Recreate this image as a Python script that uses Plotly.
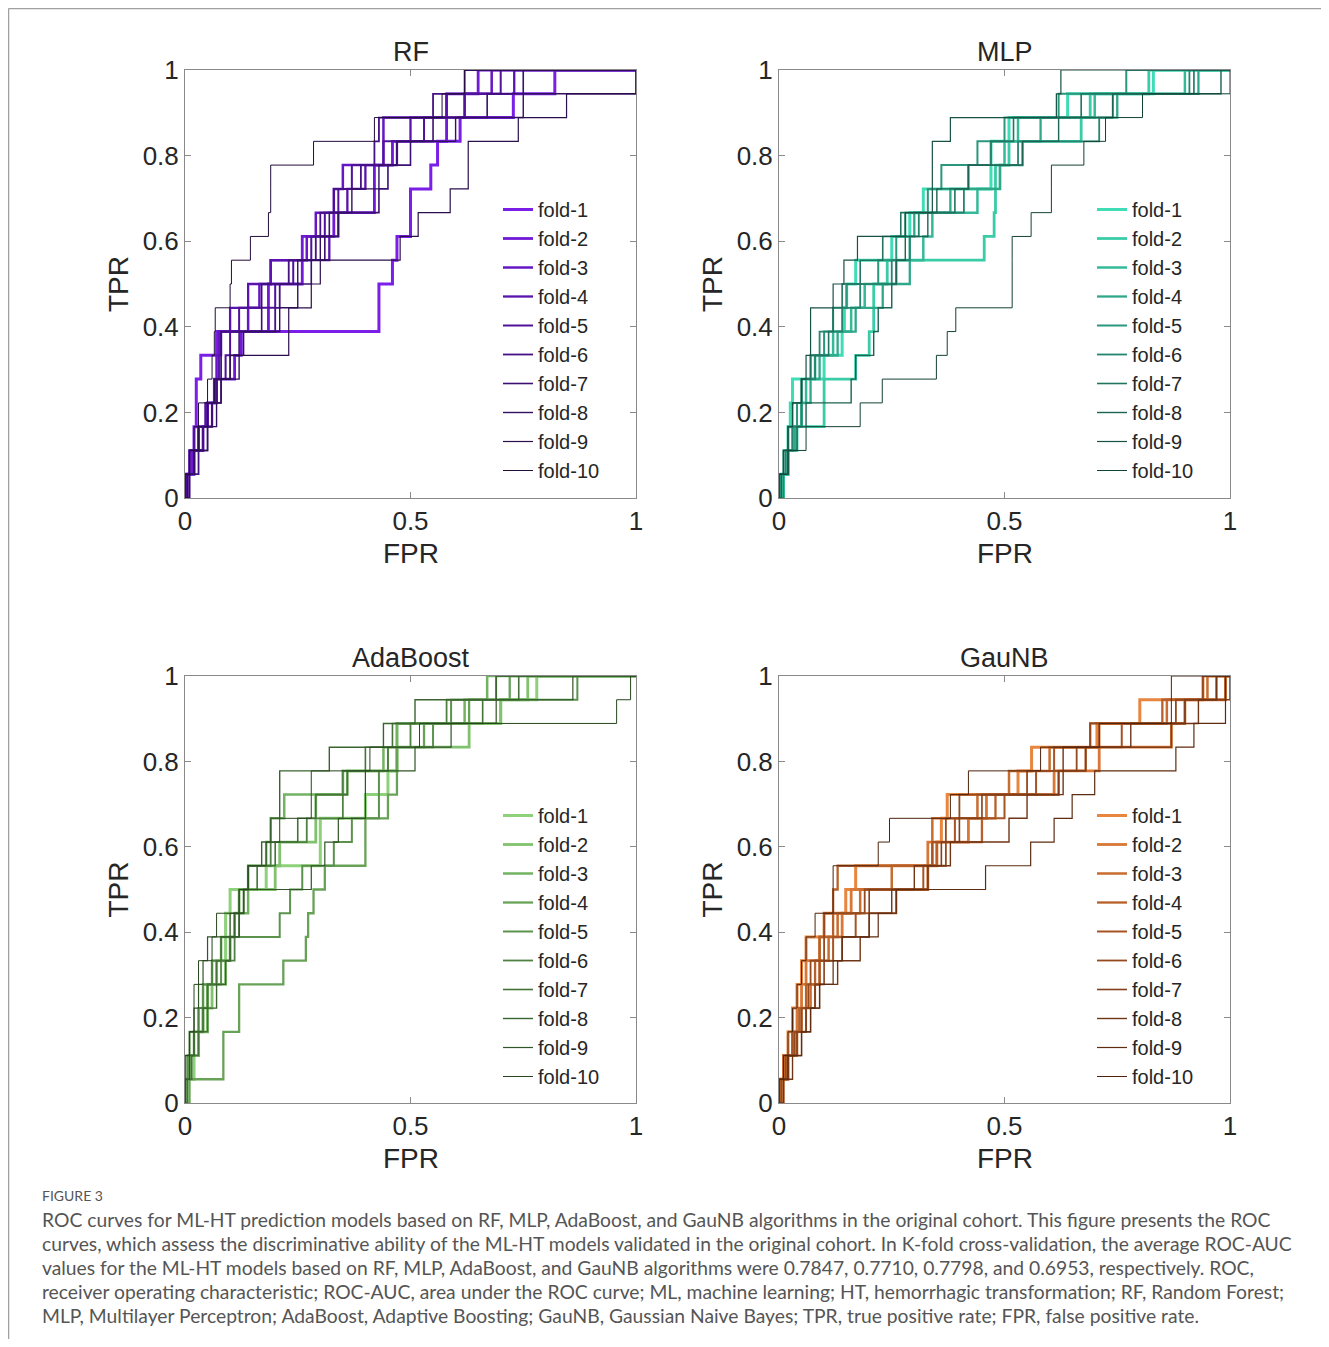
import plotly.graph_objects as go

# page is 1329x1347; browser body has an 8px margin, so the figure is 16px smaller
PAGE_W, PAGE_H = 1329, 1347
OFF = 8
W, H = PAGE_W - 2 * OFF, PAGE_H - 2 * OFF

# ---------------- data ----------------
TPR_STEPS = [0.0556, 0.1111, 0.1667, 0.2222, 0.2778, 0.3333, 0.3889, 0.4444, 0.5,
             0.5556, 0.6111, 0.6667, 0.7222, 0.7778, 0.8333, 0.8889, 0.9444, 1.0]
FOLD_NAMES = ["fold-1", "fold-2", "fold-3", "fold-4", "fold-5",
              "fold-6", "fold-7", "fold-8", "fold-9", "fold-10"]
MODEL_NAMES = ["RF", "MLP", "AdaBoost", "GauNB"]

# FPR value at which each fold's TPR reaches each successive step in TPR_STEPS
RF_FPR = [
    [0.0, 0.02, 0.02, 0.025, 0.025, 0.035, 0.07, 0.43, 0.43, 0.46, 0.47, 0.50, 0.50, 0.545, 0.56, 0.61, 0.728, 0.82],
    [0.005, 0.015, 0.03, 0.05, 0.065, 0.11, 0.125, 0.185, 0.185, 0.26, 0.26, 0.33, 0.42, 0.42, 0.46, 0.58, 0.58, 0.65],
    [0.0, 0.01, 0.04, 0.05, 0.07, 0.07, 0.075, 0.14, 0.165, 0.19, 0.27, 0.29, 0.33, 0.35, 0.44, 0.44, 0.62, 0.68],
    [0.005, 0.02, 0.04, 0.06, 0.07, 0.075, 0.08, 0.10, 0.14, 0.19, 0.32, 0.34, 0.36, 0.40, 0.47, 0.50, 0.58, 0.73],
    [0.0, 0.01, 0.03, 0.045, 0.07, 0.09, 0.10, 0.12, 0.20, 0.24, 0.28, 0.31, 0.34, 0.37, 0.44, 0.53, 0.62, 0.70],
    [0.01, 0.03, 0.04, 0.05, 0.07, 0.08, 0.08, 0.20, 0.21, 0.23, 0.29, 0.30, 0.33, 0.39, 0.42, 0.43, 0.55, 0.62],
    [0.0, 0.02, 0.05, 0.06, 0.08, 0.10, 0.12, 0.17, 0.17, 0.28, 0.31, 0.32, 0.43, 0.45, 0.50, 0.55, 0.67, 0.75],
    [0.01, 0.02, 0.05, 0.07, 0.08, 0.12, 0.13, 0.21, 0.25, 0.25, 0.30, 0.34, 0.37, 0.43, 0.47, 0.60, 0.75, 1.0],
    [0.005, 0.01, 0.03, 0.05, 0.065, 0.10, 0.23, 0.23, 0.28, 0.30, 0.477, 0.517, 0.588, 0.628, 0.628, 0.739, 0.846, 1.0],
    [0.0, 0.01, 0.02, 0.03, 0.05, 0.06, 0.065, 0.067, 0.10, 0.103, 0.145, 0.185, 0.19, 0.19, 0.285, 0.42, 0.57, 0.62],
]
MLP_FPR = [
    [0.01, 0.02, 0.02, 0.025, 0.03, 0.10, 0.14, 0.145, 0.15, 0.17, 0.25, 0.29, 0.32, 0.47, 0.47, 0.51, 0.64, 0.83],
    [0.005, 0.02, 0.04, 0.10, 0.10, 0.17, 0.20, 0.21, 0.21, 0.24, 0.455, 0.477, 0.48, 0.48, 0.51, 0.67, 0.69, 0.82],
    [0.0, 0.02, 0.03, 0.05, 0.06, 0.08, 0.12, 0.16, 0.19, 0.26, 0.32, 0.34, 0.44, 0.49, 0.50, 0.53, 0.70, 0.90],
    [0.005, 0.02, 0.035, 0.05, 0.07, 0.09, 0.13, 0.17, 0.23, 0.29, 0.29, 0.30, 0.38, 0.49, 0.54, 0.58, 0.75, 0.93],
    [0.0, 0.01, 0.02, 0.04, 0.05, 0.07, 0.10, 0.12, 0.15, 0.22, 0.26, 0.28, 0.33, 0.36, 0.44, 0.50, 0.62, 0.77],
    [0.01, 0.015, 0.03, 0.05, 0.05, 0.08, 0.09, 0.14, 0.18, 0.25, 0.29, 0.31, 0.41, 0.42, 0.53, 0.71, 0.74, 0.91],
    [0.0, 0.01, 0.02, 0.03, 0.05, 0.07, 0.11, 0.12, 0.14, 0.18, 0.23, 0.27, 0.39, 0.42, 0.47, 0.52, 0.67, 0.92],
    [0.005, 0.02, 0.04, 0.06, 0.16, 0.17, 0.21, 0.22, 0.25, 0.26, 0.28, 0.33, 0.35, 0.42, 0.54, 0.62, 0.74, 0.98],
    [0.0, 0.01, 0.02, 0.03, 0.05, 0.06, 0.07, 0.07, 0.12, 0.144, 0.174, 0.28, 0.34, 0.34, 0.34, 0.38, 0.615, 0.625],
    [0.0, 0.02, 0.06, 0.18, 0.229, 0.349, 0.373, 0.392, 0.517, 0.517, 0.517, 0.559, 0.604, 0.604, 0.676, 0.724, 0.806, 1.0],
]
ADA_FPR = [
    [0.0, 0.02, 0.03, 0.04, 0.05, 0.07, 0.09, 0.09, 0.10, 0.18, 0.30, 0.30, 0.40, 0.45, 0.47, 0.47, 0.70, 0.78],
    [0.005, 0.01, 0.03, 0.05, 0.06, 0.09, 0.10, 0.11, 0.12, 0.20, 0.21, 0.29, 0.29, 0.35, 0.47, 0.63, 0.70, 0.76],
    [0.0, 0.01, 0.02, 0.04, 0.04, 0.06, 0.08, 0.11, 0.14, 0.14, 0.18, 0.19, 0.22, 0.36, 0.44, 0.47, 0.62, 0.67],
    [0.01, 0.085, 0.085, 0.12, 0.12, 0.218, 0.268, 0.273, 0.285, 0.31, 0.40, 0.40, 0.45, 0.47, 0.47, 0.53, 0.63, 0.72],
    [0.0, 0.005, 0.01, 0.03, 0.04, 0.08, 0.10, 0.21, 0.233, 0.26, 0.33, 0.37, 0.43, 0.43, 0.45, 0.55, 0.59, 0.87],
    [0.0, 0.01, 0.02, 0.03, 0.05, 0.06, 0.11, 0.12, 0.13, 0.14, 0.19, 0.27, 0.35, 0.35, 0.45, 0.50, 0.58, 0.69],
    [0.005, 0.015, 0.03, 0.05, 0.05, 0.07, 0.08, 0.10, 0.12, 0.16, 0.20, 0.25, 0.29, 0.36, 0.40, 0.46, 0.66, 0.74],
    [0.0, 0.0, 0.02, 0.04, 0.07, 0.09, 0.10, 0.11, 0.13, 0.14, 0.17, 0.19, 0.21, 0.21, 0.32, 0.44, 0.51, 0.69],
    [0.0, 0.01, 0.01, 0.02, 0.03, 0.04, 0.05, 0.12, 0.13, 0.28, 0.31, 0.34, 0.40, 0.40, 0.51, 0.59, 0.69, 0.86],
    [0.0, 0.0, 0.01, 0.02, 0.02, 0.03, 0.06, 0.07, 0.12, 0.14, 0.18, 0.21, 0.28, 0.28, 0.41, 0.52, 0.957, 0.988],
]
GNB_FPR = [
    [0.0, 0.01, 0.02, 0.03, 0.04, 0.05, 0.06, 0.10, 0.148, 0.17, 0.35, 0.36, 0.373, 0.53, 0.56, 0.705, 0.80, 0.94],
    [0.005, 0.02, 0.03, 0.04, 0.05, 0.06, 0.09, 0.14, 0.16, 0.33, 0.33, 0.42, 0.46, 0.61, 0.71, 0.87, 0.90, 0.99],
    [0.0, 0.015, 0.04, 0.05, 0.07, 0.09, 0.11, 0.13, 0.18, 0.25, 0.34, 0.34, 0.44, 0.51, 0.60, 0.71, 0.86, 0.95],
    [0.01, 0.02, 0.03, 0.045, 0.06, 0.08, 0.09, 0.12, 0.12, 0.13, 0.35, 0.45, 0.48, 0.62, 0.68, 0.69, 0.85, 0.97],
    [0.0, 0.01, 0.03, 0.06, 0.08, 0.09, 0.12, 0.17, 0.26, 0.32, 0.34, 0.39, 0.50, 0.57, 0.61, 0.76, 0.90, 0.99],
    [0.005, 0.015, 0.035, 0.05, 0.065, 0.07, 0.10, 0.10, 0.19, 0.33, 0.37, 0.37, 0.40, 0.55, 0.66, 0.69, 0.88, 0.94],
    [0.0, 0.02, 0.04, 0.06, 0.08, 0.10, 0.14, 0.20, 0.20, 0.33, 0.36, 0.40, 0.45, 0.62, 0.68, 0.87, 0.90, 1.0],
    [0.01, 0.03, 0.05, 0.07, 0.09, 0.13, 0.18, 0.20, 0.25, 0.30, 0.38, 0.51, 0.55, 0.63, 0.63, 0.78, 0.93, 0.97],
    [0.0, 0.02, 0.05, 0.07, 0.09, 0.12, 0.14, 0.22, 0.26, 0.458, 0.558, 0.61, 0.65, 0.70, 0.88, 0.92, 0.99, 0.99],
    [0.0, 0.01, 0.02, 0.03, 0.04, 0.05, 0.06, 0.08, 0.12, 0.12, 0.22, 0.245, 0.38, 0.42, 0.58, 0.71, 0.87, 0.87],
]

X_TICKS = [0, 0.5, 1]
X_TICK_TEXT = ["0", "0.5", "1"]
Y_TICKS = [0, 0.2, 0.4, 0.6, 0.8, 1]
Y_TICK_TEXT = ["0", "0.2", "0.4", "0.6", "0.8", "1"]

CAPTION_LABEL = "FIGURE 3"
CAPTION_LINES = [
    "ROC curves for ML-HT prediction models based on RF, MLP, AdaBoost, and GauNB algorithms in the original cohort. This figure presents the ROC",
    "curves, which assess the discriminative ability of the ML-HT models validated in the original cohort. In K-fold cross-validation, the average ROC-AUC",
    "values for the ML-HT models based on RF, MLP, AdaBoost, and GauNB algorithms were 0.7847, 0.7710, 0.7798, and 0.6953, respectively. ROC,",
    "receiver operating characteristic; ROC-AUC, area under the ROC curve; ML, machine learning; HT, hemorrhagic transformation; RF, Random Forest;",
    "MLP, Multilayer Perceptron; AdaBoost, Adaptive Boosting; GauNB, Gaussian Naive Bayes; TPR, true positive rate; FPR, false positive rate.",
]

# ---------------- styles ----------------
COLORS = {
    "RF": ["#7B1FE8", "#7019D6", "#6616C4", "#5A13AE", "#4F1299",
           "#451185", "#3C1072", "#330F5F", "#2B0E4D", "#220D3B"],
    "MLP": ["#3FDDB5", "#39CCA7", "#34BA99", "#2FA88A", "#2A977C",
            "#25856E", "#207460", "#1C6352", "#175244", "#134236"],
    "AdaBoost": ["#8DD27A", "#80C26E", "#73B262", "#67A257", "#5B924C",
                 "#4F8242", "#447338", "#3A642F", "#305526", "#27461E"],
    "GauNB": ["#E8853E", "#D97836", "#C96C2F", "#B86029", "#A65423",
              "#94491E", "#823F19", "#703515", "#5E2C11", "#4D230D"],
}
WIDTHS = [3.0, 2.8, 2.5, 2.3, 2.0, 1.8, 1.6, 1.4, 1.2, 1.0]
FONT = "Liberation Sans, Arial, Helvetica, sans-serif"
TXT = "#262626"
AXC = "#8a8a8a"

# panel pixel boxes in page coordinates: (left, right, top, bottom)
PANELS = {
    "RF": (185, 636, 70, 498),
    "MLP": (779, 1230, 70, 498),
    "AdaBoost": (185, 636, 676, 1103),
    "GauNB": (779, 1230, 676, 1103),
}
DATA = {"RF": RF_FPR, "MLP": MLP_FPR, "AdaBoost": ADA_FPR, "GauNB": GNB_FPR}


def px(x):
    return (x - OFF) / W


def py(y):
    return 1 - (y - OFF) / H


fig = go.Figure()
layout = dict(
    width=W, height=H, margin=dict(l=0, r=0, t=0, b=0, autoexpand=False),
    paper_bgcolor="white", plot_bgcolor="white",
    font=dict(family=FONT, color=TXT),
    showlegend=True,
)
annotations = []
shapes = []

for i, model in enumerate(MODEL_NAMES):
    n = "" if i == 0 else str(i + 1)
    xa, ya = "x" + n, "y" + n
    leg = "legend" + n
    L, R, T, B = PANELS[model]
    for j, fold in enumerate(FOLD_NAMES):
        fx = [0.0] + DATA[model][j] + [1.0]
        fy = [0.0] + TPR_STEPS + [1.0]
        fig.add_trace(go.Scatter(
            x=fx, y=fy, mode="lines", name=fold,
            line=dict(color=COLORS[model][j], width=WIDTHS[j], shape="hv"),
            xaxis=xa, yaxis=ya, legend=leg, hoverinfo="skip",
        ))
    axis_common = dict(
        range=[0, 1], showgrid=False, zeroline=False, showline=True,
        linecolor=AXC, linewidth=1, mirror="ticks", ticks="inside",
        ticklen=6, tickcolor=AXC, tickwidth=1,
        tickfont=dict(size=26, color=TXT, family=FONT),
        fixedrange=True, automargin=False,
    )
    layout["xaxis" + n] = dict(
        axis_common, domain=[px(L), px(R)], anchor=ya,
        tickvals=X_TICKS, ticktext=X_TICK_TEXT,
    )
    layout["yaxis" + n] = dict(
        axis_common, domain=[py(B), py(T)], anchor=xa,
        tickvals=Y_TICKS, ticktext=Y_TICK_TEXT,
    )
    layout[leg] = dict(
        x=px(L + 313), y=py(T + 120), xanchor="left", yanchor="top",
        bgcolor="rgba(0,0,0,0)", borderwidth=0,
        font=dict(size=20, color=TXT, family=FONT),
        tracegroupgap=0,
    )
    cx = (L + R) / 2
    annotations.append(dict(text=model, x=px(cx), y=py(T - 18), xref="paper", yref="paper",
                            showarrow=False, xanchor="center", yanchor="middle",
                            font=dict(size=27, color=TXT, family=FONT)))
    annotations.append(dict(text="FPR", x=px(cx), y=py(B + 55), xref="paper", yref="paper",
                            showarrow=False, xanchor="center", yanchor="middle",
                            font=dict(size=28, color=TXT, family=FONT)))
    annotations.append(dict(text="TPR", x=px(L - 67), y=py((T + B) / 2), xref="paper", yref="paper",
                            showarrow=False, xanchor="center", yanchor="middle", textangle=-90,
                            font=dict(size=28, color=TXT, family=FONT)))

# caption
CAP_FONT = "Lato, Open Sans, sans-serif"
annotations.append(dict(text=CAPTION_LABEL, x=px(40), y=py(1195), xref="paper", yref="paper",
                        showarrow=False, xanchor="left", yanchor="middle",
                        font=dict(size=14, color="#555555", family=CAP_FONT)))
for k, line in enumerate(CAPTION_LINES):
    annotations.append(dict(text=line, x=px(40), y=py(1219 + 24 * k), xref="paper", yref="paper",
                            showarrow=False, xanchor="left", yanchor="middle",
                            font=dict(size=19.3, color="#555555", family=CAP_FONT)))

# page frame lines
shapes.append(dict(type="line", xref="paper", yref="paper", x0=px(8.5), x1=1, y0=py(8.5), y1=py(8.5),
                   line=dict(color="#a0a0a0", width=1.5)))
shapes.append(dict(type="line", xref="paper", yref="paper", x0=px(8.5), x1=px(8.5), y0=0, y1=py(8.5),
                   line=dict(color="#a0a0a0", width=1.5)))

layout["annotations"] = annotations
layout["shapes"] = shapes
fig.update_layout(**layout)

fig.write_html("out.html", config={"displayModeBar": False})
